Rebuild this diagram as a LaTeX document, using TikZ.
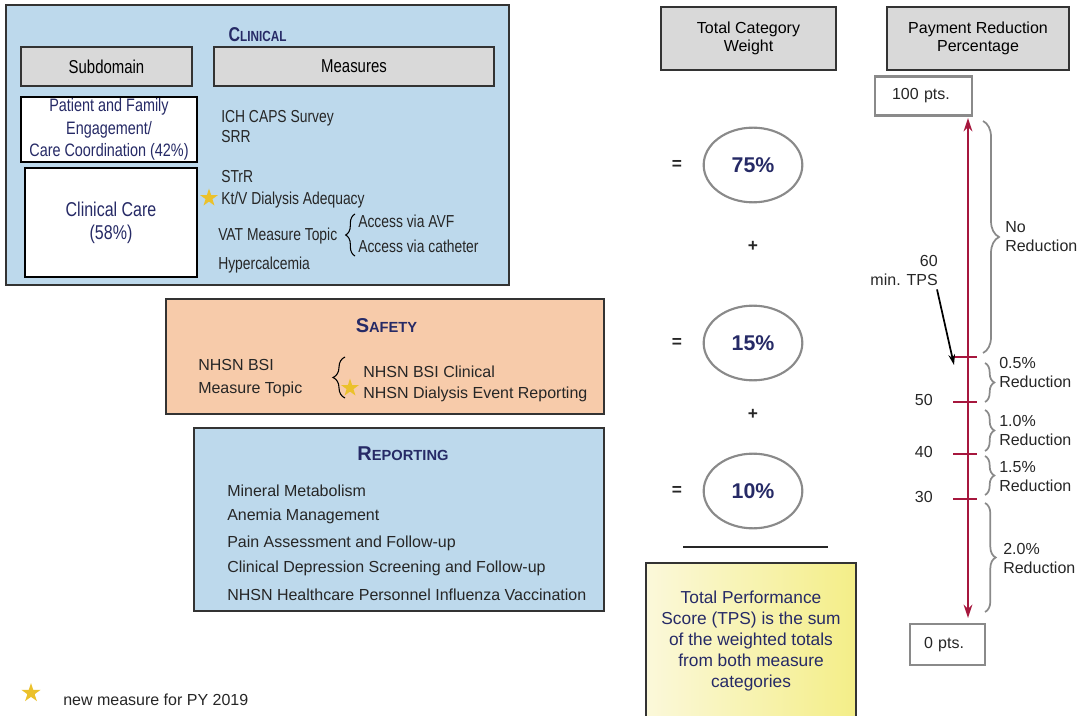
\documentclass[tikz,border=0pt]{standalone}
\usepackage{xcolor}
\usepackage{fontspec}
\setmainfont{Liberation Sans}
\newfontfamily\narrowfont[FakeStretch=0.8]{Liberation Sans}
\usepackage{tikz}
\usetikzlibrary{positioning,shapes.geometric,decorations.pathreplacing,arrows.meta}

\definecolor{clinblue}{HTML}{BDD9EC}
\definecolor{peach}{HTML}{F7CBAA}
\definecolor{headgray}{HTML}{D9D9D9}
\definecolor{navy}{HTML}{262A66}
\definecolor{crimson}{HTML}{A6173D}
\definecolor{stargold}{HTML}{EBC12B}
\definecolor{ringgray}{HTML}{8A8A8A}
\definecolor{paleyellow}{HTML}{FBF8DA}
\definecolor{lemon}{HTML}{F4EE88}

\newcommand{\capsword}[2]{{\bfseries\fontsize{15}{18}\selectfont #1\fontsize{11}{13}\selectfont #2}}

\begin{document}
\begin{tikzpicture}[x=0.75pt, y=-0.75pt,
    panel/.style={draw=black!80, line width=1.2pt},
    header/.style={panel, fill=headgray, align=center, inner sep=0pt},
    subbox/.style={draw=black, line width=1.1pt, fill=white, text=navy, align=center, inner sep=0pt},
    title/.style={text=navy, inner sep=0pt},
    item/.style={anchor=base west, inner sep=0pt, text=black!85},
    clinitem/.style={item, font=\narrowfont\fontsize{13}{15}\selectfont},
    bigitem/.style={item, font=\fontsize{12}{14}\selectfont},
    weight/.style={ellipse, draw=ringgray, line width=1.6pt, minimum width=74pt, minimum height=56pt, inner sep=0pt, text=navy, font=\bfseries\fontsize{16}{19}\selectfont},
    op/.style={text=black!85, font=\bfseries\fontsize{13}{15}\selectfont},
    ptsbox/.style={draw=ringgray, line width=2pt, fill=white, align=left, inner ysep=0pt, text=black!85, font=\fontsize{12}{14}\selectfont},
    note/.style={align=left, inner sep=0pt, text=black!85, font=\fontsize{12}{14.25}\selectfont},
    bracket/.style={line width=0.8pt, decorate, decoration={brace, amplitude=#1}},
    bracket/.default=6pt,
    newstar/.style={star, star points=5, star point ratio=2.6, fill=stargold, minimum size=14pt, inner sep=0pt},
    tick/.style={draw=crimson, line width=1pt},
    pointer/.style={draw=black, line width=1.3pt, -{Stealth[length=8pt,width=5pt]}}
]
\useasboundingbox (0,0) rectangle (1084,716);

% clinical
\node[panel, fill=clinblue, minimum width=377pt, minimum height=210pt] (clinical) at (257.5,145) {};
\node[title] (clintitle) at (257.5,35) {\narrowfont\capsword{C}{LINICAL}};
\node[header, minimum width=128pt, minimum height=29pt, font=\narrowfont\fontsize{14}{16}\selectfont] (subdomain) at (106.5,66.5) {Subdomain};
\node[header, minimum width=210pt, minimum height=29pt, font=\narrowfont\fontsize{14}{16}\selectfont] (measures) at (354,66.5) {Measures};
\node[subbox, minimum width=132pt, minimum height=48.75pt, font=\narrowfont\fontsize{13.5}{16.9}\selectfont] (engage) at (109,129.5) {Patient and Family\\Engagement/\\Care Coordination (42\%)};
\node[subbox, minimum width=129pt, minimum height=81.75pt, font=\narrowfont\fontsize{15}{17.25}\selectfont] (care) at (111,222.5) {Clinical Care\\(58\%)};
\node[clinitem] (ichcaps) at (221,123) {ICH CAPS Survey};
\node[clinitem] (srr) at (221,143) {SRR};
\node[clinitem] (strr) at (221,183) {STrR};
\node[clinitem] (ktv) at (221,205) {Kt/V Dialysis Adequacy};
\node[newstar] (ktvstar) at (209,198) {};
\node[clinitem] (vat) at (218,241) {VAT Measure Topic};
\node[clinitem] (avf) at (358,228) {Access via AVF};
\node[clinitem] (cath) at (358,253) {Access via catheter};
\node[clinitem] (hypercal) at (218,270) {Hypercalcemia};
\draw[bracket=7pt] (355,256) -- (355,214);

% safety
\node[panel, fill=peach, minimum width=328.5pt, minimum height=86pt] (safety) at (385,356.5) {};
\node[title] (safetitle) at (386.5,326) {\capsword{S}{AFETY}};
\node[bigitem] (bsi) at (198,370) {NHSN BSI};
\node[bigitem] (topic) at (198,393) {Measure Topic};
\draw[bracket=9pt] (345,398) -- (345,357);
\node[bigitem] (bsiclin) at (363,377) {NHSN BSI Clinical};
\node[bigitem] (dialysis) at (363,398) {NHSN Dialysis Event Reporting};
\node[newstar] (dialstar) at (350,388) {};

% reporting
\node[panel, fill=clinblue, minimum width=307.5pt, minimum height=137pt] (reporting) at (399,519.5) {};
\node[title] (reptitle) at (403,454) {\capsword{R}{EPORTING}};
\node[bigitem] (mineral) at (227,496) {Mineral Metabolism};
\node[bigitem] (anemia) at (227,520) {Anemia Management};
\node[bigitem] (pain) at (227,547) {Pain Assessment and Follow-up};
\node[bigitem] (depress) at (227,572) {Clinical Depression Screening and Follow-up};
\node[bigitem] (flu) at (227,600) {NHSN Healthcare Personnel Influenza Vaccination};

% weights
\node[header, minimum width=131pt, minimum height=47.25pt, font=\fontsize{12}{13.5}\selectfont] (catweight) at (748.5,38.5) {Total Category\\Weight};
\node[weight] (w75) at (753,165) {75\%};
\node[weight] (w15) at (753,343) {15\%};
\node[weight] (w10) at (753,491) {10\%};
\node[op, left=12pt of w75] (eq75) {=};
\node[op, left=12pt of w15] (eq15) {=};
\node[op, left=12pt of w10] (eq10) {=};
\node[op] (plus1) at (753,246) {+};
\node[op] (plus2) at (753,414) {+};
\coordinate (sumL) at (683,547);
\coordinate (sumR) at (828,547);
\draw[line width=1.5pt, black!85] (sumL) -- (sumR);
\node[panel, left color=paleyellow, right color=lemon, minimum width=157.5pt, minimum height=118pt, text=navy, align=center, font=\fontsize{13}{15.75}\selectfont] (tps) at (751,641.5) {Total Performance\\Score (TPS) is the sum\\of the weighted totals\\from both measure\\categories};

% payment reduction scale
\node[header, minimum width=136.5pt, minimum height=47.25pt, font=\fontsize{12}{13.5}\selectfont] (payred) at (978,38.5) {Payment Reduction\\Percentage};
\node[ptsbox, inner xsep=12.75pt, text width=47.25pt, minimum height=29.25pt] (toppts) at (923.5,96) {100 pts.};
\node[ptsbox, inner xsep=10.5pt, text width=35.25pt, minimum height=30.75pt] (botpts) at (947.5,644.5) {0 pts.};
\coordinate (axtop) at (968,118);
\coordinate (axbot) at (968,618);
\draw[crimson, line width=1.5pt, {Stealth[length=10pt,width=6.5pt]}-{Stealth[length=10pt,width=6.5pt]}] (axtop) -- (axbot);
\coordinate (t60) at (954,357);
\draw[tick, line width=2.2pt] (953,357) -- (977,357);
\draw[tick] (953,402) -- (977,402);
\draw[tick] (953,454) -- (977,454);
\draw[tick] (953,499) -- (977,499);
\node[note, anchor=east, align=right] (mintps) at (938,270) {60\\min. TPS};
\draw[pointer] ([shift={(-1,4)}]mintps.south east) -- ([yshift=-6pt]t60);
\node[note, anchor=east] (n50) at (933,400) {50};
\node[note, anchor=east] (n40) at (933,452) {40};
\node[note, anchor=east] (n30) at (933,497) {30};
\draw[bracket=12pt, draw=ringgray, line width=1.3pt] (983,121) -- (983,353);
\draw[bracket=7pt, draw=ringgray, line width=1.3pt] (985,363) -- (985,402);
\draw[bracket=7pt, draw=ringgray, line width=1.3pt] (985,410) -- (985,451);
\draw[bracket=7pt, draw=ringgray, line width=1.3pt] (985,456) -- (985,495);
\draw[bracket=8pt, draw=ringgray, line width=1.3pt] (985,503) -- (985,612);
\node[note, anchor=west] (noredlab) at (1005,237) {No\\Reduction};
\node[note, anchor=west] (red05) at (999,372) {0.5\%\\Reduction};
\node[note, anchor=west] (red10) at (999,430.5) {1.0\%\\Reduction};
\node[note, anchor=west] (red15) at (999,476.5) {1.5\%\\Reduction};
\node[note, anchor=west] (red20) at (1003,558) {2.0\%\\Reduction};

% legend
\node[newstar, minimum size=15pt] (legstar) at (31,693) {};
\node[item, font=\fontsize{12}{14}\selectfont] (legtext) at (63,705) {new measure for PY 2019};
\end{tikzpicture}
\end{document}
